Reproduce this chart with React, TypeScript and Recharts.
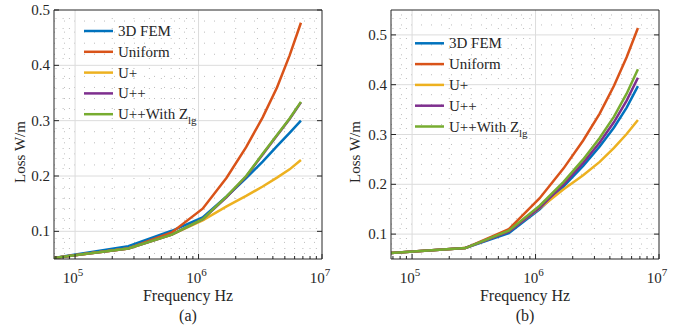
import React from 'react';
import { LineChart, Line, XAxis, YAxis, ReferenceLine } from 'recharts';

// frequency points (Hz)
const freq = [67500, 270000, 607500, 1080000, 1687500, 2430000, 3307500, 4320000, 5467500, 6750000];

// panel (a)
const femA = [0.052, 0.073, 0.101, 0.125, 0.163, 0.196, 0.226, 0.254, 0.278, 0.300];
const uniformA = [0.052, 0.069, 0.098, 0.141, 0.197, 0.252, 0.306, 0.360, 0.418, 0.477];
const uPlusA = [0.052, 0.069, 0.094, 0.120, 0.145, 0.164, 0.181, 0.197, 0.212, 0.229];
const uPPA = [0.052, 0.069, 0.094, 0.122, 0.162, 0.199, 0.239, 0.273, 0.303, 0.333];
const zlgA = [0.052, 0.069, 0.094, 0.122, 0.163, 0.200, 0.240, 0.274, 0.304, 0.334];

// panel (b)
const femB = [0.062, 0.072, 0.102, 0.150, 0.196, 0.237, 0.276, 0.314, 0.354, 0.397];
const uniformB = [0.062, 0.072, 0.110, 0.172, 0.232, 0.288, 0.342, 0.398, 0.455, 0.514];
const uPlusB = [0.062, 0.072, 0.106, 0.152, 0.190, 0.218, 0.245, 0.273, 0.301, 0.329];
const uPPB = [0.062, 0.072, 0.105, 0.153, 0.200, 0.243, 0.284, 0.325, 0.368, 0.414];
const zlgB = [0.062, 0.072, 0.107, 0.157, 0.205, 0.250, 0.293, 0.336, 0.382, 0.431];

const seriesKeys = ['fem', 'uniform', 'uPlus', 'uPP', 'zlg'];
const seriesNames = ['3D FEM', 'Uniform', 'U+', 'U++', 'U++With Z'];
const seriesSubs = ['', '', '', '', 'lg'];
const seriesColors = ['#0072BD', '#D95319', '#EDB120', '#7E2F8E', '#77AC30'];

const xDomain = [67500, 10000000];
const xMajor = [100000, 1000000, 10000000];
const xMinor = [70000, 80000, 90000, 200000, 300000, 400000, 500000, 600000, 700000, 800000, 900000,
  2000000, 3000000, 4000000, 5000000, 6000000, 7000000, 8000000, 9000000];

const yDomainA = [0.05, 0.5];
const yMajorA = [0.1, 0.2, 0.3, 0.4, 0.5];
const yMinorA = [0.06, 0.08, 0.12, 0.14, 0.16, 0.18, 0.22, 0.24, 0.26, 0.28, 0.32, 0.34, 0.36, 0.38, 0.42, 0.44, 0.46, 0.48];
const yDomainB = [0.05, 0.55];
const yMajorB = [0.1, 0.2, 0.3, 0.4, 0.5];
const yMinorB = [0.06, 0.08, 0.12, 0.14, 0.16, 0.18, 0.22, 0.24, 0.26, 0.28, 0.32, 0.34, 0.36, 0.38, 0.42, 0.44, 0.46, 0.48, 0.52, 0.54];

const FONT = 'Liberation Serif, Times New Roman, Times, serif';
const INK = '#262626';
const MAJOR_GRID = '#dcdcdc';
const MINOR_GRID = '#bdbdbd';
const txt = { fontFamily: FONT };

const buildRows = (cols: number[][]) =>
  freq.map((f, i) => {
    const row: Record<string, number> = { f };
    seriesKeys.forEach((k, j) => { row[k] = cols[j][i]; });
    return row;
  });

const rowsA = buildRows([femA, uniformA, uPlusA, uPPA, zlgA]);
const rowsB = buildRows([femB, uniformB, uPlusB, uPPB, zlgB]);

const XTick = (props: any) => {
  const { x, y, payload, side } = props;
  const v = payload.value;
  const major = xMajor.includes(v);
  const len = major ? 5 : 3;
  const dir = side === 'bottom' ? -1 : 1;
  return (
    <g>
      <line x1={x} x2={x} y1={y} y2={y + dir * len} stroke={INK} strokeWidth={1} />
      {major && side === 'bottom' && (
        <text x={x - 2} y={y + 24} textAnchor="middle" style={txt} fontSize={15} fill={INK}>
          10<tspan dy={-7} fontSize={11}>{Math.round(Math.log10(v))}</tspan>
        </text>
      )}
    </g>
  );
};

const YTick = (props: any) => {
  const { x, y, payload, side } = props;
  const dir = side === 'left' ? 1 : -1;
  return (
    <g>
      <line x1={x} x2={x + dir * 5} y1={y} y2={y} stroke={INK} strokeWidth={1} />
      {side === 'left' && (
        <text x={x - 4} y={y + 5} textAnchor="end" style={txt} fontSize={15} fill={INK}>
          {payload.value.toFixed(1)}
        </text>
      )}
    </g>
  );
};

type PanelProps = {
  rows: Record<string, number>[];
  yDomain: number[];
  yMajor: number[];
  yMinor: number[];
  width: number;
  marginLeft: number;
  marginRight: number;
};

const Panel = ({ rows, yDomain, yMajor, yMinor, width, marginLeft, marginRight }: PanelProps) => (
  <LineChart width={width} height={333} data={rows} margin={{ top: 9, right: marginRight, bottom: 44, left: marginLeft }}>
    <XAxis
      xAxisId="b" dataKey="f" type="number" scale="log" domain={xDomain} allowDataOverflow
      ticks={[...xMinor, ...xMajor]} interval={0} tickSize={0} tickMargin={0} height={30}
      axisLine={{ stroke: INK }} tickLine={false}
      tick={(p: any) => <XTick {...p} side="bottom" />}
    />
    <XAxis
      xAxisId="t" orientation="top" type="number" scale="log" domain={xDomain} allowDataOverflow
      ticks={[...xMinor, ...xMajor]} interval={0} tickSize={0} tickMargin={0} height={1}
      axisLine={{ stroke: INK }} tickLine={false}
      tick={(p: any) => <XTick {...p} side="top" />}
    />
    <YAxis
      yAxisId="l" type="number" domain={yDomain} allowDataOverflow ticks={yMajor} interval={0}
      tickSize={0} tickMargin={0} width={40} axisLine={{ stroke: INK }} tickLine={false}
      tick={(p: any) => <YTick {...p} side="left" />}
    />
    <YAxis
      yAxisId="r" orientation="right" type="number" domain={yDomain} allowDataOverflow ticks={yMajor} interval={0}
      tickSize={0} tickMargin={0} width={1} axisLine={{ stroke: INK }} tickLine={false}
      tick={(p: any) => <YTick {...p} side="right" />}
    />
    {xMinor.map((v) => (
      <ReferenceLine key={'xm' + v} xAxisId="b" yAxisId="l" x={v} stroke={MINOR_GRID} strokeDasharray="1 9" />
    ))}
    {yMinor.map((v) => (
      <ReferenceLine key={'ym' + v} xAxisId="b" yAxisId="l" y={v} stroke={MINOR_GRID} strokeDasharray="1 9" />
    ))}
    {xMajor.slice(0, 2).map((v) => (
      <ReferenceLine key={'xM' + v} xAxisId="b" yAxisId="l" x={v} stroke={MAJOR_GRID} />
    ))}
    {yMajor.filter((v) => v < yDomain[1]).map((v) => (
      <ReferenceLine key={'yM' + v} xAxisId="b" yAxisId="l" y={v} stroke={MAJOR_GRID} />
    ))}
    {seriesKeys.map((k, i) => (
      <Line
        key={k} xAxisId="b" yAxisId="l" type="linear" dataKey={k} name={seriesNames[i]}
        stroke={seriesColors[i]} strokeWidth={2.5} dot={false} isAnimationActive={false}
      />
    ))}
  </LineChart>
);

const LegendBlock = ({ x, y }: { x: number; y: number }) => (
  <g>
    {seriesNames.map((name, i) => {
      const cy = y + i * 20.8;
      return (
        <g key={name}>
          <line x1={x} x2={x + 29} y1={cy} y2={cy} stroke={seriesColors[i]} strokeWidth={2.5} />
          <text x={x + 34} y={cy + 5} style={txt} fontSize={15} fill={INK}>
            {name}
            {seriesSubs[i] && <tspan dy={5} fontSize={11}>{seriesSubs[i]}</tspan>}
          </text>
        </g>
      );
    })}
  </g>
);

const PanelText = ({ cx, ylx, tag }: { cx: number; ylx: number; tag: string }) => (
  <g style={txt} fill={INK}>
    <text x={cx} y={301} textAnchor="middle" fontSize={16} style={txt}>Frequency Hz</text>
    <text x={cx} y={321} textAnchor="middle" fontSize={16} style={txt}>{tag}</text>
    <text x={ylx} y={152} textAnchor="middle" fontSize={15} style={txt} transform={`rotate(-90 ${ylx} 152)`}>Loss W/m</text>
  </g>
);

export default function App() {
  return (
    <div style={{ position: 'absolute', left: 0, top: 0, width: 689, height: 333, background: '#fff', overflow: 'hidden' }}>
      <div style={{ position: 'absolute', left: 0, top: 0 }}>
        <Panel rows={rowsA} yDomain={yDomainA} yMajor={yMajorA} yMinor={yMinorA} width={345} marginLeft={14} marginRight={22} />
      </div>
      <div style={{ position: 'absolute', left: 345, top: 0 }}>
        <Panel rows={rowsB} yDomain={yDomainB} yMajor={yMajorB} yMinor={yMinorB} width={344} marginLeft={6} marginRight={29} />
      </div>
      <svg width={689} height={333} style={{ position: 'absolute', left: 0, top: 0, pointerEvents: 'none' }}>
        <PanelText cx={188} ylx={25} tag="(a)" />
        <PanelText cx={525} ylx={360} tag="(b)" />
        <LegendBlock x={84} y={31} />
        <LegendBlock x={415} y={43.3} />
      </svg>
    </div>
  );
}
